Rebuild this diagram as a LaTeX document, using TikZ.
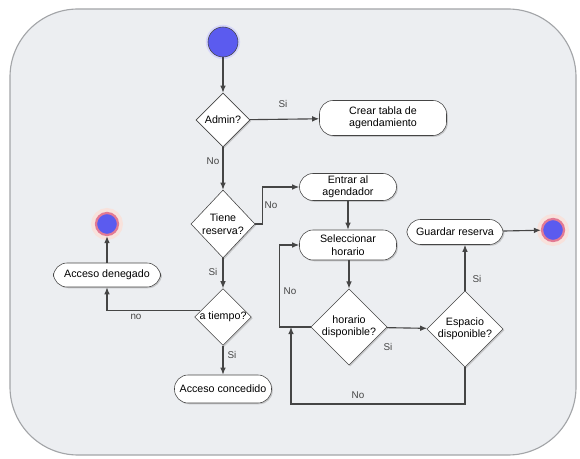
\documentclass[tikz,border=0pt]{standalone}
\usepackage{fontspec}
\setmainfont{Liberation Sans}
\usepackage{tikz}
\usetikzlibrary{shapes.geometric, arrows.meta, shadows, positioning, calc}
\definecolor{fondo}{HTML}{ECEEF1}
\definecolor{borde}{HTML}{A3A5A8}
\definecolor{linea}{HTML}{454545}
\definecolor{azul}{HTML}{5B5BEF}
\definecolor{anillo}{HTML}{E27A94}
\definecolor{halo}{HTML}{F8E2DC}

\begin{document}
\begin{tikzpicture}[x=0.025cm, y=-0.025cm, font=\fontsize{7.6}{8.8}\selectfont,
    sombra/.style={drop shadow={shadow xshift=0.9pt, shadow yshift=-0.9pt, opacity=0.35}},
    blk/.style={draw=linea, fill=white, rounded corners=0.34cm, align=center, inner sep=1pt, sombra},
    rombo/.style={diamond, draw=linea, fill=white, align=center, inner sep=0pt, sombra},
    inicio/.style={circle, fill=azul, draw=linea, minimum size=0.75cm, preaction={draw=azul!25, line width=3pt}},
    fin/.style={circle, fill=azul, draw=anillo, line width=1.6pt, minimum size=0.55cm, preaction={draw=halo, line width=7pt}},
    etq/.style={font=\fontsize{7}{8}\selectfont, text=linea},
    arrow/.style={-{Latex[length=5pt,width=4pt]}, draw=linea, line width=0.8pt}]
    \useasboundingbox (0,0) rectangle (580,459);
    \draw[fill=fondo, draw=borde, line width=0.8pt, rounded corners=1.7cm] (10,9) rectangle (576,455);

    \node[inicio] (ini) at (223,42) {};
    \node[rombo, minimum width=1.35cm, minimum height=1.35cm] (admin) at (223,120) {Admin?};
    \node[blk, minimum width=3.175cm, minimum height=0.875cm] (crear) at (383,118) {Crear tabla de\\agendamiento};
    \node[rombo, minimum width=1.6cm, minimum height=1.7cm] (tiene) at (223,224) {Tiene\\reserva?};
    \node[blk, minimum width=2.425cm, minimum height=0.675cm] (entrar) at (348,187) {Entrar al\\agendador};
    \node[blk, minimum width=2.425cm, minimum height=0.75cm] (selec) at (348,245) {Seleccionar\\horario};
    \node[blk, minimum width=2.4cm, minimum height=0.625cm] (guardar) at (455,232) {Guardar reserva};
    \node[fin] (fin1) at (553,230) {};
    \node[rombo, minimum width=1.8cm, minimum height=1.775cm] (horario) at (349,327) {horario\\disponible?};
    \node[rombo, minimum width=1.8cm, minimum height=1.775cm] (espacio) at (465,329) {Espacio\\disponible?};
    \node[rombo, minimum width=1.4cm, minimum height=1.3cm] (tiempo) at (223,317) {a tiempo?};
    \node[blk, minimum width=2.675cm, minimum height=0.6cm] (denegado) at (107,275) {Acceso denegado};
    \node[fin] (fin2) at (107,224) {};
    \node[blk, minimum width=2.425cm, minimum height=0.7cm] (concedido) at (223,389) {Acceso concedido};
    \coordinate (bajo) at (291,404);
    \coordinate (junta) at (291,327);

    \draw[arrow] (ini) -- (admin);
    \draw[arrow] (admin) -- (crear);
    \draw[arrow] (admin) -- (tiene);
    \draw[arrow] (tiene.east) -- ++(7,0) |- (entrar.west);
    \draw[arrow] (entrar) -- (selec);
    \draw[arrow] (tiene) -- (tiempo);
    \draw[arrow] (tiempo.165) -| (denegado.south);
    \draw[arrow] (denegado) -- (fin2);
    \draw[arrow] (tiempo) -- (concedido);
    \draw[arrow] (selec.south -| horario.north) -- (horario.north);
    \draw[arrow] (horario) -- (espacio);
    \draw[arrow] (horario.west) -- ++(-31,0) |- (selec.west);
    \draw[arrow] (espacio.south) |- (bajo) -- (junta);
    \draw[arrow] (espacio.north) -- (espacio.north |- guardar.south);
    \draw[arrow] (guardar) -- (fin1);

    \node[etq] (si1) at (283,104) {Si};
    \node[etq] (no1) at (213,161) {No};
    \node[etq] (no2) at (271,205) {No};
    \node[etq] (si2) at (213,272) {Si};
    \node[etq] (no3) at (136,317) {no};
    \node[etq] (si3) at (232,355) {Si};
    \node[etq] (no4) at (290,291) {No};
    \node[etq] (si4) at (388,347) {Si};
    \node[etq] (no5) at (358,395) {No};
    \node[etq] (si5) at (477,279) {Si};
\end{tikzpicture}
\end{document}
